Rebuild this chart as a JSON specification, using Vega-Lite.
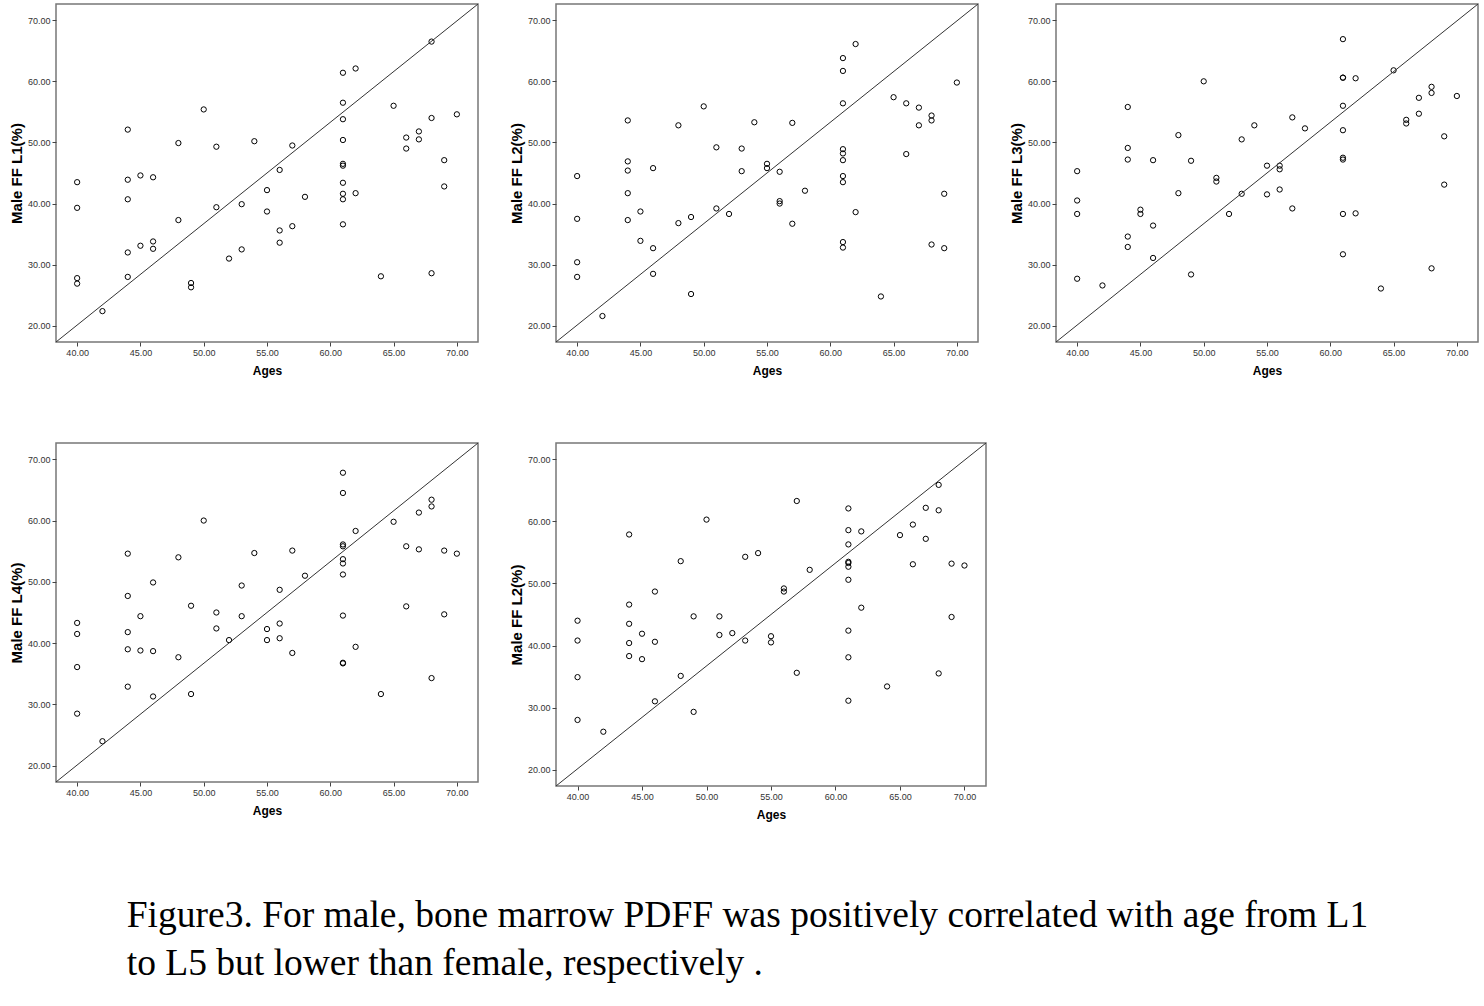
{
  "$schema": "https://vega.github.io/schema/vega-lite/v6.json",
  "background": "white",
  "padding": {"left": 8, "top": 2, "right": 0, "bottom": 0},
  "datasets": {
    "p1": [
      {"age":40,"ff":43.5},{"age":40,"ff":39.3},{"age":40,"ff":27.8},{"age":40,"ff":26.9},{"age":42,"ff":22.4},
      {"age":44,"ff":52.1},{"age":44,"ff":43.9},{"age":44,"ff":40.7},{"age":44,"ff":32.0},{"age":44,"ff":28.0},
      {"age":45,"ff":44.6},{"age":45,"ff":33.1},{"age":46,"ff":44.3},{"age":46,"ff":33.8},{"age":46,"ff":32.6},
      {"age":48,"ff":49.9},{"age":48,"ff":37.3},{"age":49,"ff":27.0},{"age":49,"ff":26.3},{"age":50,"ff":55.4},
      {"age":51,"ff":49.3},{"age":51,"ff":39.4},{"age":52,"ff":31.0},{"age":53,"ff":39.9},{"age":53,"ff":32.5},
      {"age":54,"ff":50.2},{"age":55,"ff":42.2},{"age":55,"ff":38.7},{"age":56,"ff":45.5},{"age":56,"ff":35.6},
      {"age":56,"ff":33.6},{"age":57,"ff":49.5},{"age":57,"ff":36.3},{"age":58,"ff":41.1},{"age":61,"ff":61.4},
      {"age":61,"ff":56.5},{"age":61,"ff":53.8},{"age":61,"ff":50.4},{"age":61,"ff":46.5},{"age":61,"ff":46.2},
      {"age":61,"ff":43.4},{"age":61,"ff":41.6},{"age":61,"ff":40.7},{"age":61,"ff":36.6},{"age":62,"ff":62.1},
      {"age":62,"ff":41.7},{"age":64,"ff":28.1},{"age":65,"ff":56.0},{"age":66,"ff":50.8},{"age":66,"ff":49.0},
      {"age":67,"ff":51.8},{"age":67,"ff":50.5},{"age":68,"ff":66.5},{"age":68,"ff":54.0},{"age":68,"ff":28.6},
      {"age":69,"ff":47.1},{"age":69,"ff":42.8},{"age":70,"ff":54.6}
    ],
    "p2": [
      {"age":40,"ff":44.5},{"age":40,"ff":37.5},{"age":40,"ff":30.4},{"age":40,"ff":28.0},{"age":42,"ff":21.6},
      {"age":44,"ff":53.6},{"age":44,"ff":46.9},{"age":44,"ff":45.4},{"age":44,"ff":41.7},{"age":44,"ff":37.3},
      {"age":45,"ff":38.7},{"age":45,"ff":33.9},{"age":46,"ff":45.8},{"age":46,"ff":32.7},{"age":46,"ff":28.5},
      {"age":48,"ff":52.8},{"age":48,"ff":36.8},{"age":49,"ff":37.8},{"age":49,"ff":25.2},{"age":50,"ff":55.9},
      {"age":51,"ff":49.2},{"age":51,"ff":39.2},{"age":52,"ff":38.3},{"age":53,"ff":49.0},{"age":53,"ff":45.3},
      {"age":54,"ff":53.3},{"age":55,"ff":46.5},{"age":55,"ff":45.8},{"age":56,"ff":45.2},{"age":56,"ff":40.4},
      {"age":56,"ff":40.0},{"age":57,"ff":53.2},{"age":57,"ff":36.7},{"age":58,"ff":42.1},{"age":61,"ff":63.8},
      {"age":61,"ff":61.7},{"age":61,"ff":56.4},{"age":61,"ff":48.9},{"age":61,"ff":48.2},{"age":61,"ff":47.1},
      {"age":61,"ff":44.5},{"age":61,"ff":43.5},{"age":61,"ff":33.7},{"age":61,"ff":32.8},{"age":62,"ff":66.1},
      {"age":62,"ff":38.6},{"age":64,"ff":24.8},{"age":65,"ff":57.4},{"age":66,"ff":56.4},{"age":66,"ff":48.1},
      {"age":67,"ff":55.7},{"age":67,"ff":52.8},{"age":68,"ff":54.4},{"age":68,"ff":53.6},{"age":68,"ff":33.3},
      {"age":69,"ff":41.6},{"age":69,"ff":32.7},{"age":70,"ff":59.8}
    ],
    "p3": [
      {"age":40,"ff":45.3},{"age":40,"ff":40.5},{"age":40,"ff":38.3},{"age":40,"ff":27.7},{"age":42,"ff":26.6},
      {"age":44,"ff":55.8},{"age":44,"ff":49.1},{"age":44,"ff":47.2},{"age":44,"ff":34.6},{"age":44,"ff":32.9},
      {"age":45,"ff":39.0},{"age":45,"ff":38.3},{"age":46,"ff":47.1},{"age":46,"ff":36.4},{"age":46,"ff":31.1},
      {"age":48,"ff":51.2},{"age":48,"ff":41.7},{"age":49,"ff":47.0},{"age":49,"ff":28.4},{"age":50,"ff":60.0},
      {"age":51,"ff":44.2},{"age":51,"ff":43.6},{"age":52,"ff":38.3},{"age":53,"ff":50.5},{"age":53,"ff":41.6},
      {"age":54,"ff":52.8},{"age":55,"ff":46.2},{"age":55,"ff":41.5},{"age":56,"ff":46.2},{"age":56,"ff":45.6},
      {"age":56,"ff":42.3},{"age":57,"ff":54.1},{"age":57,"ff":39.2},{"age":58,"ff":52.3},{"age":61,"ff":66.9},
      {"age":61,"ff":60.6},{"age":61,"ff":60.6},{"age":61,"ff":56.0},{"age":61,"ff":52.0},{"age":61,"ff":47.5},
      {"age":61,"ff":47.2},{"age":61,"ff":38.3},{"age":61,"ff":31.7},{"age":62,"ff":60.5},{"age":62,"ff":38.4},
      {"age":64,"ff":26.1},{"age":65,"ff":61.8},{"age":66,"ff":53.7},{"age":66,"ff":53.1},{"age":67,"ff":57.3},
      {"age":67,"ff":54.7},{"age":68,"ff":59.1},{"age":68,"ff":58.1},{"age":68,"ff":29.4},{"age":69,"ff":51.0},
      {"age":69,"ff":43.1},{"age":70,"ff":57.6}
    ],
    "p4": [
      {"age":40,"ff":43.3},{"age":40,"ff":41.5},{"age":40,"ff":36.1},{"age":40,"ff":28.5},{"age":42,"ff":24.0},
      {"age":44,"ff":54.6},{"age":44,"ff":47.7},{"age":44,"ff":41.8},{"age":44,"ff":39.0},{"age":44,"ff":32.9},
      {"age":45,"ff":44.4},{"age":45,"ff":38.8},{"age":46,"ff":49.9},{"age":46,"ff":38.7},{"age":46,"ff":31.3},
      {"age":48,"ff":54.0},{"age":48,"ff":37.7},{"age":49,"ff":46.1},{"age":49,"ff":31.7},{"age":50,"ff":60.0},
      {"age":51,"ff":45.0},{"age":51,"ff":42.4},{"age":52,"ff":40.5},{"age":53,"ff":49.4},{"age":53,"ff":44.4},
      {"age":54,"ff":54.7},{"age":55,"ff":42.3},{"age":55,"ff":40.5},{"age":56,"ff":48.7},{"age":56,"ff":43.2},
      {"age":56,"ff":40.8},{"age":57,"ff":55.1},{"age":57,"ff":38.4},{"age":58,"ff":51.0},{"age":61,"ff":67.8},
      {"age":61,"ff":64.5},{"age":61,"ff":56.1},{"age":61,"ff":55.8},{"age":61,"ff":53.7},{"age":61,"ff":53.0},
      {"age":61,"ff":51.2},{"age":61,"ff":44.5},{"age":61,"ff":36.8},{"age":61,"ff":36.7},{"age":62,"ff":58.3},
      {"age":62,"ff":39.4},{"age":64,"ff":31.7},{"age":65,"ff":59.8},{"age":66,"ff":55.8},{"age":66,"ff":46.0},
      {"age":67,"ff":61.3},{"age":67,"ff":55.3},{"age":68,"ff":63.4},{"age":68,"ff":62.3},{"age":68,"ff":34.3},
      {"age":69,"ff":55.1},{"age":69,"ff":44.7},{"age":70,"ff":54.6}
    ],
    "p5": [
      {"age":40,"ff":44.0},{"age":40,"ff":40.8},{"age":40,"ff":34.9},{"age":40,"ff":28.0},{"age":42,"ff":26.1},
      {"age":44,"ff":57.9},{"age":44,"ff":46.6},{"age":44,"ff":43.5},{"age":44,"ff":40.4},{"age":44,"ff":38.3},
      {"age":45,"ff":41.9},{"age":45,"ff":37.8},{"age":46,"ff":48.7},{"age":46,"ff":40.6},{"age":46,"ff":31.0},
      {"age":48,"ff":53.6},{"age":48,"ff":35.1},{"age":49,"ff":44.7},{"age":49,"ff":29.3},{"age":50,"ff":60.3},
      {"age":51,"ff":44.7},{"age":51,"ff":41.7},{"age":52,"ff":42.0},{"age":53,"ff":54.3},{"age":53,"ff":40.8},
      {"age":54,"ff":54.9},{"age":55,"ff":41.5},{"age":55,"ff":40.5},{"age":56,"ff":49.2},{"age":56,"ff":48.7},
      {"age":57,"ff":63.3},{"age":57,"ff":35.6},{"age":58,"ff":52.2},{"age":61,"ff":62.1},{"age":61,"ff":58.6},
      {"age":61,"ff":56.3},{"age":61,"ff":53.5},{"age":61,"ff":53.3},{"age":61,"ff":52.7},{"age":61,"ff":50.6},
      {"age":61,"ff":42.4},{"age":61,"ff":38.1},{"age":61,"ff":31.1},{"age":62,"ff":58.4},{"age":62,"ff":46.1},
      {"age":64,"ff":33.4},{"age":65,"ff":57.8},{"age":66,"ff":59.5},{"age":66,"ff":53.1},{"age":67,"ff":62.2},
      {"age":67,"ff":57.2},{"age":68,"ff":65.9},{"age":68,"ff":61.8},{"age":68,"ff":35.5},{"age":69,"ff":53.2},
      {"age":69,"ff":44.6},{"age":70,"ff":52.9}
    ],
    "diag": [{"age":38.33,"ff":17.35,"age2":71.67,"ff2":72.65}]
  },
  "title": {
    "text": ["Figure3. For male, bone marrow PDFF was positively correlated with age from L1", "to L5 but lower than female, respectively ."],
    "orient": "bottom",
    "anchor": "start",
    "font": "Liberation Serif",
    "fontSize": 37.5,
    "fontWeight": "normal",
    "color": "#000",
    "lineHeight": 48,
    "offset": 76,
    "dx": 118
  },
  "spacing": 64,
  "vconcat": [
    {
      "spacing": 78,
      "bounds": "flush",
      "hconcat": [
        {"width": 422, "height": 338, "layer": [
          {"data": {"name": "p1"}, "mark": {"type": "point", "shape": "circle", "filled": false, "size": 28, "strokeWidth": 1, "color": "#000", "opacity": 1},
           "encoding": {
             "x": {"field": "age", "type": "quantitative", "scale": {"domain": [38.33, 71.67], "nice": false, "zero": false}, "axis": {"values": [40,45,50,55,60,65,70], "format": ".2f", "title": "Ages"}},
             "y": {"field": "ff", "type": "quantitative", "scale": {"domain": [17.35, 72.65], "nice": false, "zero": false}, "axis": {"values": [20,30,40,50,60,70], "format": ".2f", "title": "Male FF L1(%)"}}}},
          {"data": {"name": "diag"}, "mark": {"type": "rule", "color": "#333", "strokeWidth": 1},
           "encoding": {
             "x": {"field": "age", "type": "quantitative", "scale": {"domain": [38.33, 71.67], "nice": false, "zero": false}, "axis": {"values": [40,45,50,55,60,65,70], "format": ".2f", "title": "Ages"}},
             "y": {"field": "ff", "type": "quantitative", "scale": {"domain": [17.35, 72.65], "nice": false, "zero": false}, "axis": {"values": [20,30,40,50,60,70], "format": ".2f", "title": "Male FF L1(%)"}},
             "x2": {"field": "age2"}, "y2": {"field": "ff2"}}}
        ]},
        {"width": 422, "height": 338, "layer": [
          {"data": {"name": "p2"}, "mark": {"type": "point", "shape": "circle", "filled": false, "size": 28, "strokeWidth": 1, "color": "#000", "opacity": 1},
           "encoding": {
             "x": {"field": "age", "type": "quantitative", "scale": {"domain": [38.33, 71.67], "nice": false, "zero": false}, "axis": {"values": [40,45,50,55,60,65,70], "format": ".2f", "title": "Ages"}},
             "y": {"field": "ff", "type": "quantitative", "scale": {"domain": [17.35, 72.65], "nice": false, "zero": false}, "axis": {"values": [20,30,40,50,60,70], "format": ".2f", "title": "Male FF L2(%)"}}}},
          {"data": {"name": "diag"}, "mark": {"type": "rule", "color": "#333", "strokeWidth": 1},
           "encoding": {
             "x": {"field": "age", "type": "quantitative", "scale": {"domain": [38.33, 71.67], "nice": false, "zero": false}, "axis": {"values": [40,45,50,55,60,65,70], "format": ".2f", "title": "Ages"}},
             "y": {"field": "ff", "type": "quantitative", "scale": {"domain": [17.35, 72.65], "nice": false, "zero": false}, "axis": {"values": [20,30,40,50,60,70], "format": ".2f", "title": "Male FF L2(%)"}},
             "x2": {"field": "age2"}, "y2": {"field": "ff2"}}}
        ]},
        {"width": 422, "height": 338, "layer": [
          {"data": {"name": "p3"}, "mark": {"type": "point", "shape": "circle", "filled": false, "size": 28, "strokeWidth": 1, "color": "#000", "opacity": 1},
           "encoding": {
             "x": {"field": "age", "type": "quantitative", "scale": {"domain": [38.33, 71.67], "nice": false, "zero": false}, "axis": {"values": [40,45,50,55,60,65,70], "format": ".2f", "title": "Ages"}},
             "y": {"field": "ff", "type": "quantitative", "scale": {"domain": [17.35, 72.65], "nice": false, "zero": false}, "axis": {"values": [20,30,40,50,60,70], "format": ".2f", "title": "Male FF L3(%)"}}}},
          {"data": {"name": "diag"}, "mark": {"type": "rule", "color": "#333", "strokeWidth": 1},
           "encoding": {
             "x": {"field": "age", "type": "quantitative", "scale": {"domain": [38.33, 71.67], "nice": false, "zero": false}, "axis": {"values": [40,45,50,55,60,65,70], "format": ".2f", "title": "Ages"}},
             "y": {"field": "ff", "type": "quantitative", "scale": {"domain": [17.35, 72.65], "nice": false, "zero": false}, "axis": {"values": [20,30,40,50,60,70], "format": ".2f", "title": "Male FF L3(%)"}},
             "x2": {"field": "age2"}, "y2": {"field": "ff2"}}}
        ]}
      ]
    },
    {
      "spacing": 78,
      "bounds": "flush",
      "hconcat": [
        {"width": 422, "height": 339, "layer": [
          {"data": {"name": "p4"}, "mark": {"type": "point", "shape": "circle", "filled": false, "size": 28, "strokeWidth": 1, "color": "#000", "opacity": 1},
           "encoding": {
             "x": {"field": "age", "type": "quantitative", "scale": {"domain": [38.33, 71.67], "nice": false, "zero": false}, "axis": {"values": [40,45,50,55,60,65,70], "format": ".2f", "title": "Ages"}},
             "y": {"field": "ff", "type": "quantitative", "scale": {"domain": [17.35, 72.65], "nice": false, "zero": false}, "axis": {"values": [20,30,40,50,60,70], "format": ".2f", "title": "Male FF L4(%)"}}}},
          {"data": {"name": "diag"}, "mark": {"type": "rule", "color": "#333", "strokeWidth": 1},
           "encoding": {
             "x": {"field": "age", "type": "quantitative", "scale": {"domain": [38.33, 71.67], "nice": false, "zero": false}, "axis": {"values": [40,45,50,55,60,65,70], "format": ".2f", "title": "Ages"}},
             "y": {"field": "ff", "type": "quantitative", "scale": {"domain": [17.35, 72.65], "nice": false, "zero": false}, "axis": {"values": [20,30,40,50,60,70], "format": ".2f", "title": "Male FF L4(%)"}},
             "x2": {"field": "age2"}, "y2": {"field": "ff2"}}}
        ]},
        {"width": 430, "height": 343, "layer": [
          {"data": {"name": "p5"}, "mark": {"type": "point", "shape": "circle", "filled": false, "size": 28, "strokeWidth": 1, "color": "#000", "opacity": 1},
           "encoding": {
             "x": {"field": "age", "type": "quantitative", "scale": {"domain": [38.33, 71.67], "nice": false, "zero": false}, "axis": {"values": [40,45,50,55,60,65,70], "format": ".2f", "title": "Ages"}},
             "y": {"field": "ff", "type": "quantitative", "scale": {"domain": [17.35, 72.65], "nice": false, "zero": false}, "axis": {"values": [20,30,40,50,60,70], "format": ".2f", "title": "Male FF L2(%)"}}}},
          {"data": {"name": "diag"}, "mark": {"type": "rule", "color": "#333", "strokeWidth": 1},
           "encoding": {
             "x": {"field": "age", "type": "quantitative", "scale": {"domain": [38.33, 71.67], "nice": false, "zero": false}, "axis": {"values": [40,45,50,55,60,65,70], "format": ".2f", "title": "Ages"}},
             "y": {"field": "ff", "type": "quantitative", "scale": {"domain": [17.35, 72.65], "nice": false, "zero": false}, "axis": {"values": [20,30,40,50,60,70], "format": ".2f", "title": "Male FF L2(%)"}},
             "x2": {"field": "age2"}, "y2": {"field": "ff2"}}}
        ]}
      ]
    }
  ],
  "config": {
    "view": {"stroke": "#777", "strokeWidth": 1.5},
    "axis": {
      "domain": false,
      "grid": false,
      "ticks": true,
      "tickSize": 4,
      "tickColor": "#444",
      "labelFont": "Liberation Sans",
      "labelFontSize": 9,
      "labelColor": "#333",
      "labelPadding": 2,
      "titleFont": "Liberation Sans",
      "titleFontWeight": "bold",
      "titleColor": "#000"
    },
    "axisX": {"titleFontSize": 12, "titlePadding": 8},
    "axisY": {"titleFontSize": 15, "titlePadding": 3}
  }
}
